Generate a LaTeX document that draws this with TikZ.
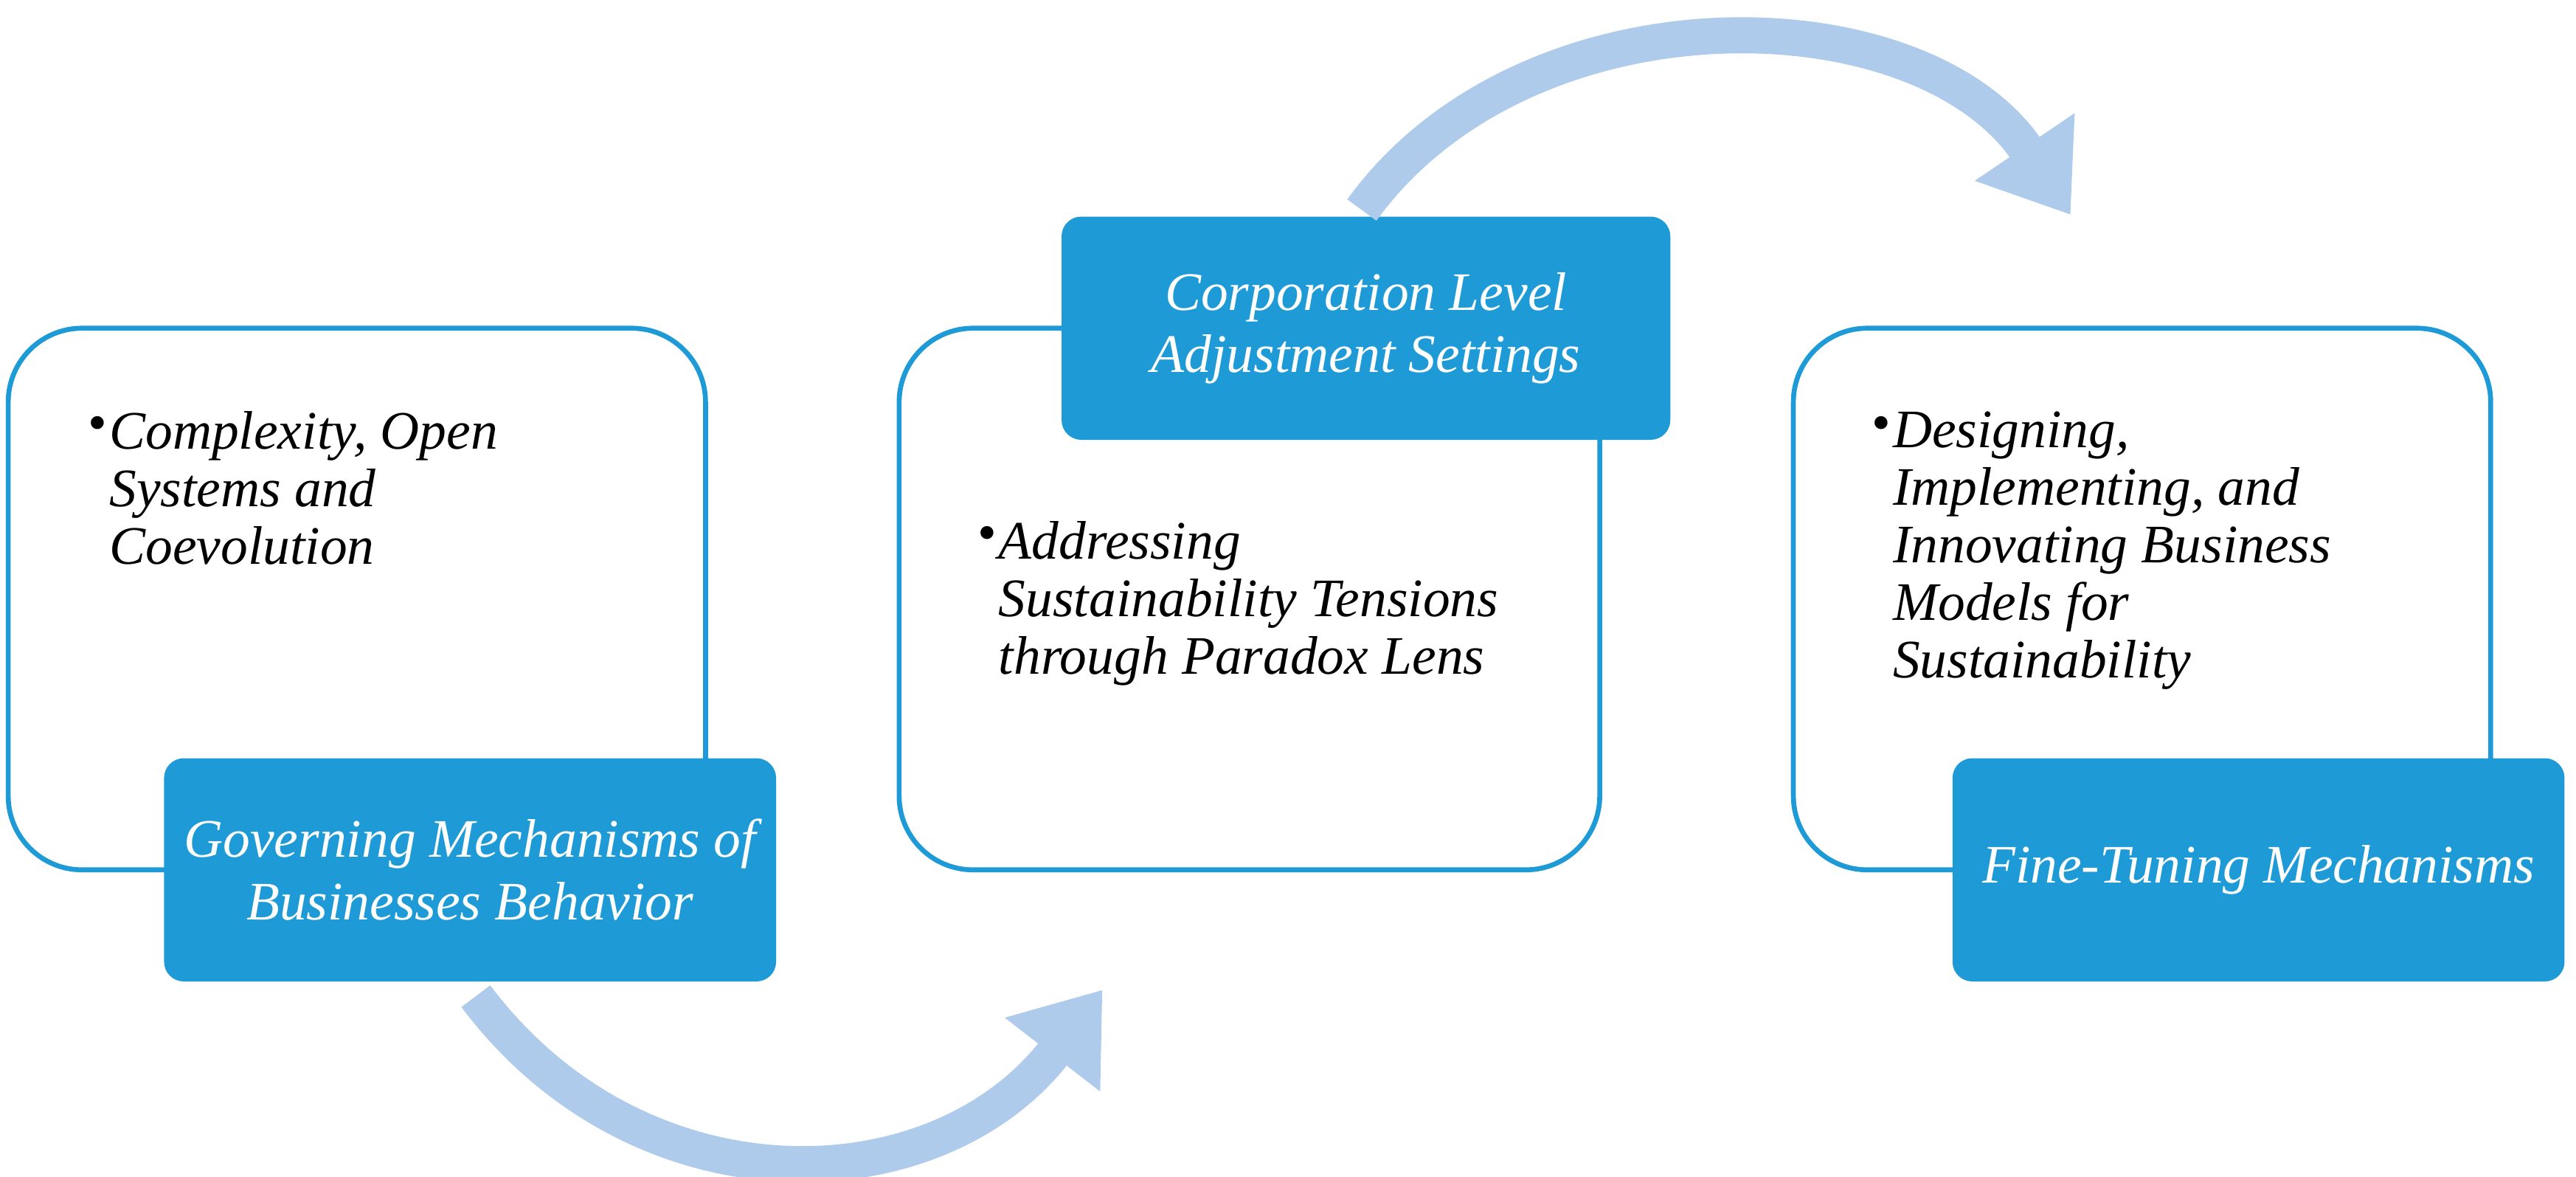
\documentclass[tikz,border=0pt]{standalone}
\usepackage{fontspec}
\setmainfont{Liberation Serif}
\usetikzlibrary{arrows.meta}
\definecolor{bl}{RGB}{30,155,215}
\definecolor{arr}{RGB}{174,203,235}
\begin{document}
\begin{tikzpicture}[x=1cm,y=1cm,
 wbox/.style={draw=bl,line width=0.03cm,rounded corners=0.45cm,fill=white},
 bbox/.style={fill=bl,rounded corners=0.12cm,text=white,font=\fontsize{9.4}{10.8}\selectfont\itshape,align=center},
 btxt/.style={anchor=north west,align=left,inner sep=0,font=\fontsize{9.4}{10}\selectfont\itshape},
 bul/.style={anchor=north east,inner sep=0,font=\fontsize{9.4}{10}\selectfont},
 flow/.style={draw=arr,line width=0.22cm,-{Triangle[length=0.5cm,width=0.7cm]}}]
\useasboundingbox (0,8.78) rectangle (15.70,15.95);
% left
\draw[wbox] (0.05,10.65) rectangle (4.30,13.95);
\node[bbox,minimum width=3.73cm,minimum height=1.36cm] (g) at (2.865,10.65) {Governing Mechanisms of\\Businesses Behavior};
\node[bul] (b1) at (0.66,13.42) {\textbullet};
\node[btxt] (t1) at (0.66,13.45) {Complexity, Open\\Systems and\\Coevolution};
% middle
\draw[wbox] (5.48,10.65) rectangle (9.75,13.95);
\node[bbox,minimum width=3.71cm,minimum height=1.36cm] (c) at (8.325,13.95) {Corporation Level\\Adjustment Settings};
\node[bul] (b2) at (6.08,12.75) {\textbullet};
\node[btxt] (t2) at (6.08,12.78) {Addressing\\Sustainability Tensions\\through Paradox Lens};
% right
\draw[wbox] (10.93,10.65) rectangle (15.18,13.95);
\node[bbox,minimum width=3.73cm,minimum height=1.36cm] (f) at (13.765,10.65) {Fine-Tuning Mechanisms};
\node[bul] (b3) at (11.53,13.42) {\textbullet};
\node[btxt] (t3) at (11.53,13.45) {Designing,\\Implementing, and\\Innovating Business\\Models for\\Sustainability};
% arrows
\coordinate (a1s) at (2.9,9.88);
\coordinate (a1e) at (6.72,9.92);
\coordinate (a2s) at (8.3,14.67);
\coordinate (a2e) at (12.62,14.64);
\draw[flow] (a1s) .. controls (3.9,8.55) and (5.7,8.6) .. (a1e);
\draw[flow] (a2s) .. controls (9.3,16.05) and (11.7,16.0) .. (a2e);
\end{tikzpicture}
\end{document}
